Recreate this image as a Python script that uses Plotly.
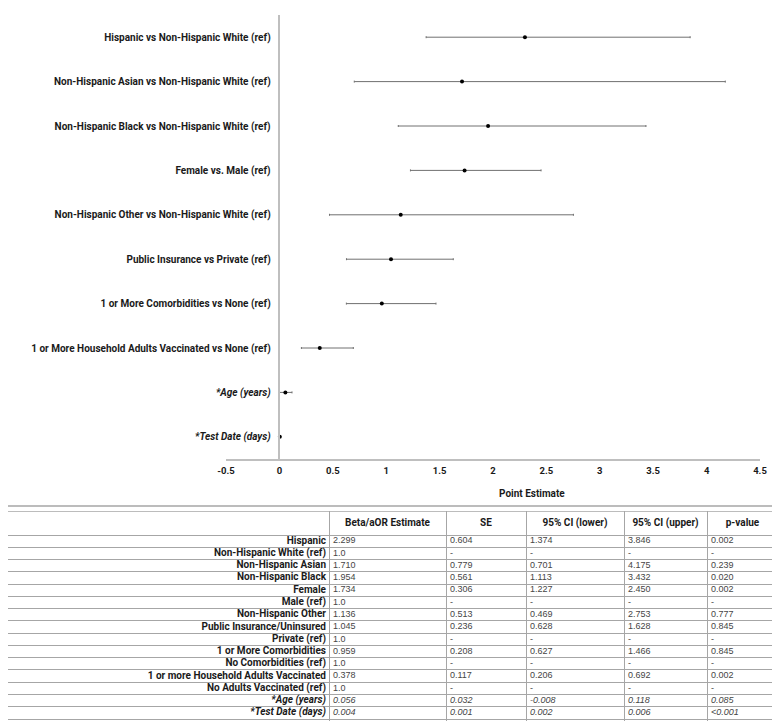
import plotly.graph_objects as go

# ---------------- forest plot data ----------------
plot_labels = [
    "Hispanic vs Non-Hispanic White (ref)",
    "Non-Hispanic Asian vs Non-Hispanic White (ref)",
    "Non-Hispanic Black vs Non-Hispanic White (ref)",
    "Female vs. Male (ref)",
    "Non-Hispanic Other vs Non-Hispanic White (ref)",
    "Public Insurance vs Private (ref)",
    "1 or More Comorbidities vs None (ref)",
    "1 or More Household Adults Vaccinated vs None (ref)",
    "*Age (years)",
    "*Test Date (days)",
]
plot_italic = [False] * 8 + [True, True]
plot_est = [2.299, 1.710, 1.954, 1.734, 1.136, 1.045, 0.959, 0.378, 0.056, 0.004]
plot_lo = [1.374, 0.701, 1.113, 1.227, 0.469, 0.628, 0.627, 0.206, -0.008, 0.002]
plot_hi = [3.846, 4.175, 3.432, 2.450, 2.753, 1.628, 1.466, 0.692, 0.118, 0.006]

x_ticks = [-0.5, 0, 0.5, 1, 1.5, 2, 2.5, 3, 3.5, 4, 4.5]
x_tick_text = ["-0.5", "0", "0.5", "1", "1.5", "2", "2.5", "3", "3.5", "4", "4.5"]

# ---------------- table data ----------------
tbl_header = ["", "Beta/aOR Estimate", "SE", "95% CI (lower)", "95% CI (upper)", "p-value"]
tbl_labels = [
    "Hispanic", "Non-Hispanic White (ref)", "Non-Hispanic Asian", "Non-Hispanic Black",
    "Female", "Male (ref)", "Non-Hispanic Other", "Public Insurance/Uninsured",
    "Private (ref)", "1 or More Comorbidities", "No Comorbidities (ref)",
    "1 or more Household Adults Vaccinated", "No Adults Vaccinated (ref)",
    "*Age (years)", "*Test Date (days)",
]
tbl_italic = [False] * 13 + [True, True]
tbl_est = ["2.299", "1.0", "1.710", "1.954", "1.734", "1.0", "1.136", "1.045", "1.0",
           "0.959", "1.0", "0.378", "1.0", "0.056", "0.004"]
tbl_se = ["0.604", "-", "0.779", "0.561", "0.306", "-", "0.513", "0.236", "-",
          "0.208", "-", "0.117", "-", "0.032", "0.001"]
tbl_lo = ["1.374", "-", "0.701", "1.113", "1.227", "-", "0.469", "0.628", "-",
          "0.627", "-", "0.206", "-", "-0.008", "0.002"]
tbl_hi = ["3.846", "-", "4.175", "3.432", "2.450", "-", "2.753", "1.628", "-",
          "1.466", "-", "0.692", "-", "0.118", "0.006"]
tbl_p = ["0.002", "-", "0.239", "0.020", "0.002", "-", "0.777", "0.845", "-",
         "0.845", "-", "0.002", "-", "0.085", "<0.001"]

# ---------------- layout constants (page pixel coordinates) ----------------
OFF = 8                      # default body margin of the page
W, H = 780 - OFF, 721 - OFF  # figure size so the page fills the window
X_RANGE = [-0.5, 4.5]
px_left, px_right = 226, 760
px_top, px_bottom = 15, 459
TBL_TOP, TBL_HEAD, TBL_ROW = 511, 24, 12.27
TBL_COLS = [0, 329, 446, 526, 624, 707, 778]
LABEL_FONT = "Roboto"
NUM_FONT = "Liberation Sans"
AXIS_GRAY = "#bfbfbf"
TBL_GRAY = "#a6a6a6"
TXT = "#1a1a1a"


def fx(px):
    return (px - OFF) / W


def fy(py):
    return 1 - (py - OFF) / H


def fmt_label(s, it):
    return f"<b><i>{s}</i></b>" if it else f"<b>{s}</b>"


def fmt_val(s, it):
    return f"<i>{s}</i>" if it else s


x_dom = [fx(px_left), fx(px_right)]
y_dom = [fy(px_bottom), fy(px_top)]
yaxis_pos = x_dom[0] + (0 - X_RANGE[0]) / (X_RANGE[1] - X_RANGE[0]) * (x_dom[1] - x_dom[0])
rows = list(range(len(plot_labels)))

fig = go.Figure()

# ---- forest plot ----
fig.add_trace(go.Scatter(
    x=plot_est, y=rows, mode="markers",
    marker=dict(color="black", size=4),
    error_x=dict(type="data", symmetric=False,
                 array=[h - e for h, e in zip(plot_hi, plot_est)],
                 arrayminus=[e - l for e, l in zip(plot_est, plot_lo)],
                 color="#707070", thickness=1, width=1),
    hoverinfo="skip", showlegend=False,
))

# ---- table drawn on its own pixel-unit axes ----
n = len(tbl_labels)
row_y = [TBL_TOP + TBL_HEAD + (i + 0.5) * TBL_ROW for i in range(n)]
head_y = TBL_TOP + TBL_HEAD / 2
h_borders = [TBL_TOP, TBL_TOP + TBL_HEAD] + [TBL_TOP + TBL_HEAD + (i + 1) * TBL_ROW for i in range(n)]

# header
fig.add_trace(go.Scatter(
    x=[(TBL_COLS[i] + TBL_COLS[i + 1]) / 2 for i in range(1, 6)],
    y=[head_y] * 5, mode="text", text=[f"<b>{h}</b>" for h in tbl_header[1:]],
    textposition="middle center",
    textfont=dict(family=LABEL_FONT, size=10, color=TXT),
    xaxis="x2", yaxis="y2", hoverinfo="skip", showlegend=False,
))
# label column (right aligned)
fig.add_trace(go.Scatter(
    x=[TBL_COLS[1] - 3] * n, y=row_y, mode="text",
    text=[fmt_label(s, it) for s, it in zip(tbl_labels, tbl_italic)],
    textposition="middle left",
    textfont=dict(family=LABEL_FONT, size=10, color=TXT),
    xaxis="x2", yaxis="y2", hoverinfo="skip", showlegend=False,
))
# value columns (left aligned)
for ci, col in enumerate([tbl_est, tbl_se, tbl_lo, tbl_hi, tbl_p], start=1):
    fig.add_trace(go.Scatter(
        x=[TBL_COLS[ci] + 4] * n, y=row_y, mode="text",
        text=[fmt_val(s, it) for s, it in zip(col, tbl_italic)],
        textposition="middle right",
        textfont=dict(family=NUM_FONT, size=9, color="#454545"),
        xaxis="x2", yaxis="y2", hoverinfo="skip", showlegend=False,
    ))

fig.update_layout(
    width=W, height=H,
    margin=dict(l=0, r=0, t=0, b=0, autoexpand=False),
    paper_bgcolor="white", plot_bgcolor="white",
    xaxis=dict(
        domain=x_dom, range=X_RANGE, tickvals=x_ticks,
        ticktext=[f"<b>{t}</b>" for t in x_tick_text],
        showgrid=False, zeroline=False, showline=True, linecolor=AXIS_GRAY, linewidth=1.5,
        ticks="", tickfont=dict(family=LABEL_FONT, size=9.5, color=TXT),
        ticklabelstandoff=2, automargin=False,
    ),
    yaxis=dict(
        domain=y_dom, range=[len(rows) - 0.5, -0.5], anchor="free", position=yaxis_pos,
        tickvals=rows, ticktext=[fmt_label(s, it) for s, it in zip(plot_labels, plot_italic)],
        showgrid=False, zeroline=False, showline=True, linecolor=AXIS_GRAY, linewidth=1.5,
        ticks="", tickfont=dict(family=LABEL_FONT, size=10, color=TXT),
        ticklabelstandoff=6, automargin=False,
    ),
    xaxis2=dict(
        domain=[0, 1], range=[OFF, OFF + W], anchor="y2",
        tickvals=TBL_COLS, showticklabels=False, ticks="",
        showgrid=True, gridcolor=TBL_GRAY, gridwidth=1, zeroline=False,
        showline=False, automargin=False, fixedrange=True,
    ),
    yaxis2=dict(
        domain=[fy(OFF + H), fy(TBL_TOP)], range=[OFF + H, TBL_TOP], anchor="x2",
        tickvals=h_borders, showticklabels=False, ticks="",
        showgrid=True, gridcolor=TBL_GRAY, gridwidth=1, zeroline=False,
        showline=False, automargin=False, fixedrange=True,
    ),
    annotations=[dict(
        text="<b>Point Estimate</b>", xref="paper", yref="paper",
        x=fx(532), y=fy(493), xanchor="center", yanchor="middle", showarrow=False,
        font=dict(family=LABEL_FONT, size=10, color=TXT),
    )],
    shapes=[
        dict(type="rect", xref="paper", yref="paper",
             x0=fx(0.5), x1=fx(778), y0=fy(506), y1=fy(0.5),
             line=dict(color=TBL_GRAY, width=1.5), fillcolor="rgba(0,0,0,0)"),
        dict(type="line", xref="paper", yref="y2",
             x0=fx(0), x1=fx(778), y0=TBL_TOP, y1=TBL_TOP,
             line=dict(color=TBL_GRAY, width=1.5)),
    ],
)

fig.write_html("out.html")
